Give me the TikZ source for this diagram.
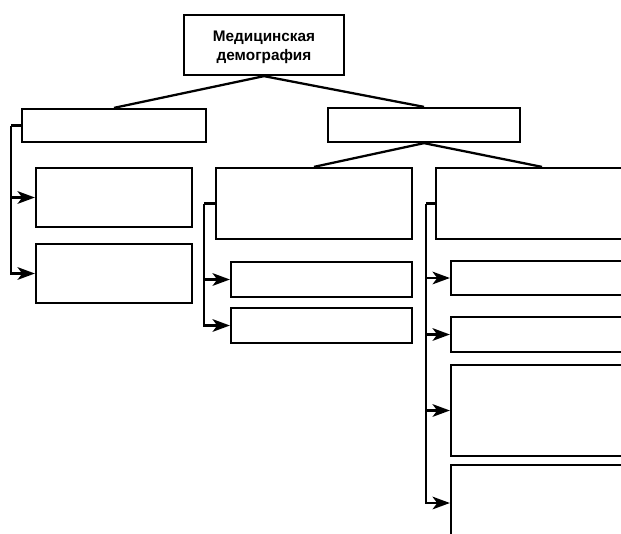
\documentclass[tikz,border=0pt]{standalone}
\usepackage{fontspec}
\setmainfont{Liberation Sans}
\usetikzlibrary{fit,arrows.meta}
\begin{document}
\begin{tikzpicture}[x=0.75pt,y=-0.75pt,
  box/.style={draw,line width=1.7pt,inner sep=0pt,fill=white},
  conn/.style={line width=1.7pt},
  arr/.style={line width=1.7pt,-{Stealth[length=13pt,width=9.5pt,inset=3.5pt]}}]
\clip (0,0) rectangle (621,533);
\fill[white] (0,0) rectangle (621,533);
% boxes
\node[box,fit={(184,15) (344,75)}] (top) {};
\node[font=\bfseries\fontsize{11.5}{14.5}\selectfont,align=center,yshift=-1.5pt] (toptext) at (top.center) {Медицинская\\демография};
\node[box,fit={(22,109) (206,142)}] (L) {};
\node[box,fit={(328,108) (520,142)}] (R) {};
\node[box,fit={(36,168) (192,227)}] (A) {};
\node[box,fit={(36,244) (192,303)}] (B) {};
\node[box,fit={(216,168) (412,239)}] (M) {};
\node[box,fit={(436,168) (648,239)}] (N) {};
\node[box,fit={(231,262) (412,297)}] (C) {};
\node[box,fit={(231,308) (412,343)}] (D) {};
\node[box,fit={(451,261) (648,295)}] (E) {};
\node[box,fit={(451,317) (648,352)}] (F) {};
\node[box,fit={(451,365) (648,456)}] (G) {};
\node[box,fit={(451,465) (648,541)}] (H) {};
% tree lines
\draw[conn] (top.south) -- (L.north);
\draw[conn] (top.south) -- (R.north);
\draw[conn] (R.south) -- (M.north);
\draw[conn] (R.south) -- (N.north);
% brackets
\coordinate (lb) at (11,125.5);
\coordinate (mb) at (204,203.5);
\coordinate (rb) at (426,203.5);
\draw[conn] (L.west) -- (lb);
\draw[arr] (lb) |- (A.west);
\draw[arr] (lb) |- (B.west);
\draw[conn] (M.west) -- (mb);
\draw[arr] (mb) |- (C.west);
\draw[arr] (mb) |- (D.west);
\draw[conn] (N.west) -- (rb);
\draw[arr] (rb) |- (E.west);
\draw[arr] (rb) |- (F.west);
\draw[arr] (rb) |- (G.west);
\draw[arr] (rb) |- (H.west);
\end{tikzpicture}
\end{document}
